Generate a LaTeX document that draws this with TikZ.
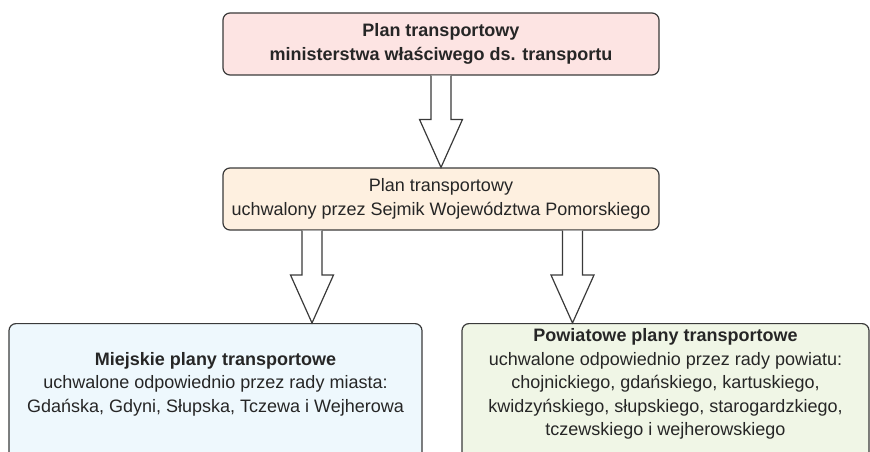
\documentclass[tikz,border=0pt]{standalone}
\usepackage{fontspec}
\setmainfont{Liberation Sans}
\usetikzlibrary{calc}
\definecolor{boxline}{HTML}{3A3A3A}
\definecolor{textgray}{HTML}{262626}
\definecolor{planpink}{HTML}{FDE4E3}
\definecolor{planpeach}{HTML}{FEF0E0}
\definecolor{planblue}{HTML}{EEF8FD}
\definecolor{plangreen}{HTML}{F0F6E6}
\newcommand{\hollowarrow}[2]{%
	\draw[hollow] let \p1=(#1), \p2=(#2) in (\x1-10pt,\y1) -- (\x1-10pt,\y2+48pt) -- (\x1-21.5pt,\y2+48pt)
	-- (\x2,\y2) -- (\x1+21.5pt,\y2+48pt) -- (\x1+10pt,\y2+48pt) -- (\x1+10pt,\y1);}

\begin{document}
\begin{tikzpicture}[x=1pt, y=-1pt, font=\fontsize{18}{23.5}\selectfont,
	box/.style={draw=boxline, line width=1.2pt, rounded corners=7pt, inner sep=0pt, text=textgray},
	hollow/.style={draw=boxline, line width=1.2pt, line join=miter, fill=white}]
			\clip (0,0) rectangle (870,452);
			\node[box, fill=planpink, minimum width=436, minimum height=62, align=center] (ministerstwo) at (441,44)
			{\textbf{Plan transportowy}\\\textbf{ministerstwa właściwego ds. transportu}};
			\node[box, fill=planpeach, minimum width=436, minimum height=62, align=center] (sejmik) at (441,199)
			{Plan transportowy\\uchwalony przez Sejmik Województwa Pomorskiego};
			\node[box, fill=planblue, minimum width=413, minimum height=136, anchor=north] (miejskie) at (215.5,323) {};
			\node[text=textgray, align=center] (miejskietxt) at (215.5,384)
			{\textbf{Miejskie plany transportowe}\\uchwalone odpowiednio przez rady miasta:\\Gdańska, Gdyni, Słupska, Tczewa i Wejherowa};
			\node[box, fill=plangreen, minimum width=407, minimum height=136, anchor=north] (powiatowe) at (665.5,323) {};
			\node[text=textgray, align=center] (powiatowetxt) at (665.5,384)
			{\textbf{Powiatowe plany transportowe}\\uchwalone odpowiednio przez rady powiatu:\\chojnickiego, gdańskiego, kartuskiego,\\kwidzyńskiego, słupskiego, starogardzkiego,\\tczewskiego i wejherowskiego};
			\coordinate (lstart) at ($(sejmik.south)+(-129,0)$);
			\coordinate (lend) at (lstart |- miejskie.north);
			\coordinate (rstart) at ($(sejmik.south)+(131.5,0)$);
			\coordinate (rend) at (rstart |- powiatowe.north);
			\hollowarrow{ministerstwo.south}{sejmik.north}
			\hollowarrow{lstart}{lend}
			\hollowarrow{rstart}{rend}
		\end{tikzpicture}
\end{document}
